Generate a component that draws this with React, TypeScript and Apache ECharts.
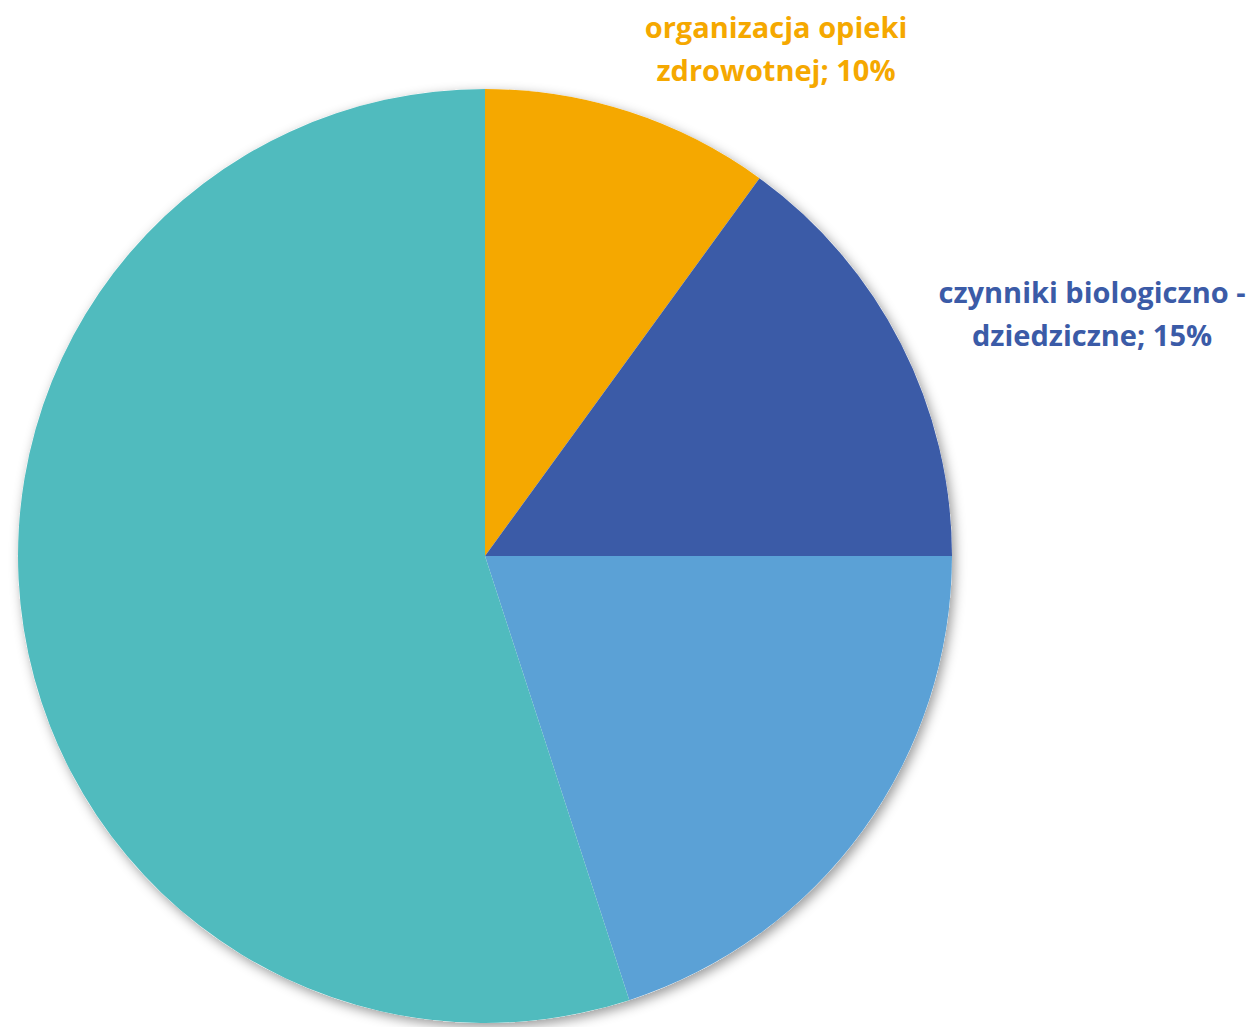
import React, { useEffect, useRef } from "react";
import * as echarts from "echarts";

const categories = [
  "organizacja opieki zdrowotnej",
  "czynniki biologiczno - dziedziczne",
  "środowisko",
  "styl życia",
];
const values = [10, 15, 20, 55];
const colors = ["#F5A800", "#3B5BA7", "#5BA1D6", "#50BBBE"];
const labelLines = [
  ["organizacja opieki", "zdrowotnej"],
  ["czynniki biologiczno -", "dziedziczne"],
  null,
  null,
];
const labelAnchors = [
  [776, 48],
  [1092, 313],
];

export default function App() {
  const ref = useRef<HTMLDivElement>(null);
  useEffect(() => {
    const chart = echarts.init(ref.current!, undefined, { renderer: "svg" });
    chart.setOption({
      animation: false,
      backgroundColor: "#ffffff",
      series: [
        {
          type: "pie",
          silent: true,
          center: [485, 556],
          radius: [0, 467],
          label: { show: false },
          labelLine: { show: false },
          itemStyle: {
            color: "#ffffff",
            shadowBlur: 12,
            shadowColor: "rgba(0,0,0,0.4)",
            shadowOffsetX: 3,
            shadowOffsetY: 4,
          },
          data: [{ name: "", value: 1 }],
          z: 1,
        },
        {
          type: "pie",
          center: [485, 556],
          radius: [0, 467],
          startAngle: 90,
          clockwise: true,
          avoidLabelOverlap: false,
          z: 2,
          labelLine: { show: false },
          emphasis: { disabled: true },
          data: categories.map((name, i) => ({
            name,
            value: values[i],
            itemStyle: { color: colors[i] },
            label: {
              show: labelLines[i] !== null,
              color: colors[i],
            },
          })),
          label: {
            position: "outside",
            fontFamily: "Open Sans",
            fontWeight: "bold",
            fontSize: 29,
            lineHeight: 43,
            align: "center",
            formatter: (p: any) => {
              const lines = labelLines[p.dataIndex];
              if (!lines) return "";
              return lines[0] + "\n" + lines[1] + "; " + Math.round(p.percent) + "%";
            },
          },
          labelLayout: (p: any) => {
            const a = labelAnchors[p.dataIndex];
            if (!a) return {};
            return {
              x: a[0],
              y: a[1],
              align: "center",
              verticalAlign: "middle",
            };
          },
        },
      ],
    });
    return () => chart.dispose();
  }, []);
  return (
    <div
      ref={ref}
      style={{ position: "fixed", left: 0, top: 0, width: 1255, height: 1027 }}
    />
  );
}
